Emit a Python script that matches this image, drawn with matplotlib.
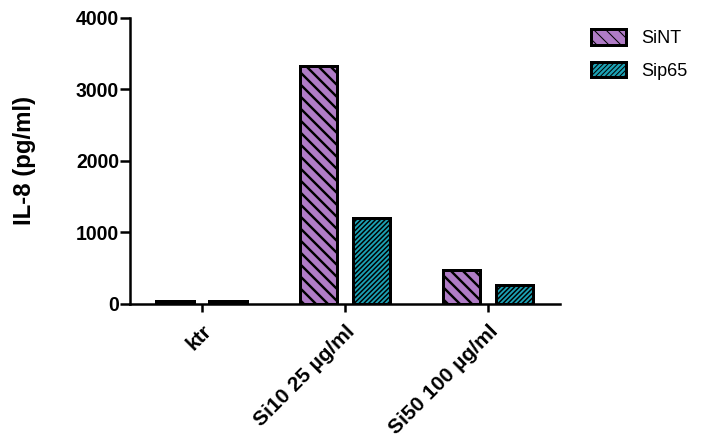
import matplotlib
matplotlib.use('Agg')
import matplotlib.pyplot as plt
import numpy as np

# data
categories = ['ktr', 'Si10 25 µg/ml', 'Si50 100 µg/ml']
series = ['SiNT', 'Sip65']
sint = [40, 3330, 470]
sip65 = [45, 1205, 265]
colors = ['#B07CC6', '#1BA1B4']
hatches = ['\\\\', '/////']
hatch_lw = [2.4, 1.5]

plt.rcParams['font.family'] = ['Liberation Sans', 'DejaVu Sans']
plt.rcParams['hatch.color'] = 'black'

fig = plt.figure(figsize=(714 / 72, 441 / 72), dpi=72)
ax = fig.add_axes([0.182, 0.311, 0.602, 0.649])

x = np.arange(len(categories))
w = 0.26
off = 0.185
for vals, c, h, hl, lab, d in zip([sint, sip65], colors, hatches, hatch_lw, series, [-off, off]):
    with plt.rc_context({'hatch.linewidth': hl}):
        ax.bar(x + d, vals, width=w, color=c, edgecolor='black', linewidth=3,
               hatch=h, label=lab)

ax.set_xlim(-0.5, 2.5)
ax.set_ylim(0, 4000)
ax.set_yticks([0, 1000, 2000, 3000, 4000])
ax.set_xticks(x)
ax.set_xticklabels(categories, rotation=45, ha='right', rotation_mode='anchor',
                   fontsize=21, fontweight='bold')
for t in ax.get_yticklabels():
    t.set_fontsize(19.5)
    t.set_fontweight('bold')
ax.set_ylabel('IL-8 (pg/ml)', fontsize=24, fontweight='bold', labelpad=40)

for s in ['top', 'right']:
    ax.spines[s].set_visible(False)
for s in ['left', 'bottom']:
    ax.spines[s].set_linewidth(2.5)
ax.tick_params(axis='y', width=2.5, length=10, direction='out', pad=1)
ax.tick_params(axis='x', width=2.5, length=8, direction='out', pad=10)

ax.legend(loc='upper left', bbox_to_anchor=(0.818, 0.95), bbox_transform=fig.transFigure,
          frameon=False, fontsize=18, handlelength=1.95, handleheight=0.95,
          handletextpad=0.8, labelspacing=0.8, borderaxespad=0)

fig.savefig('out.png', dpi=72)
